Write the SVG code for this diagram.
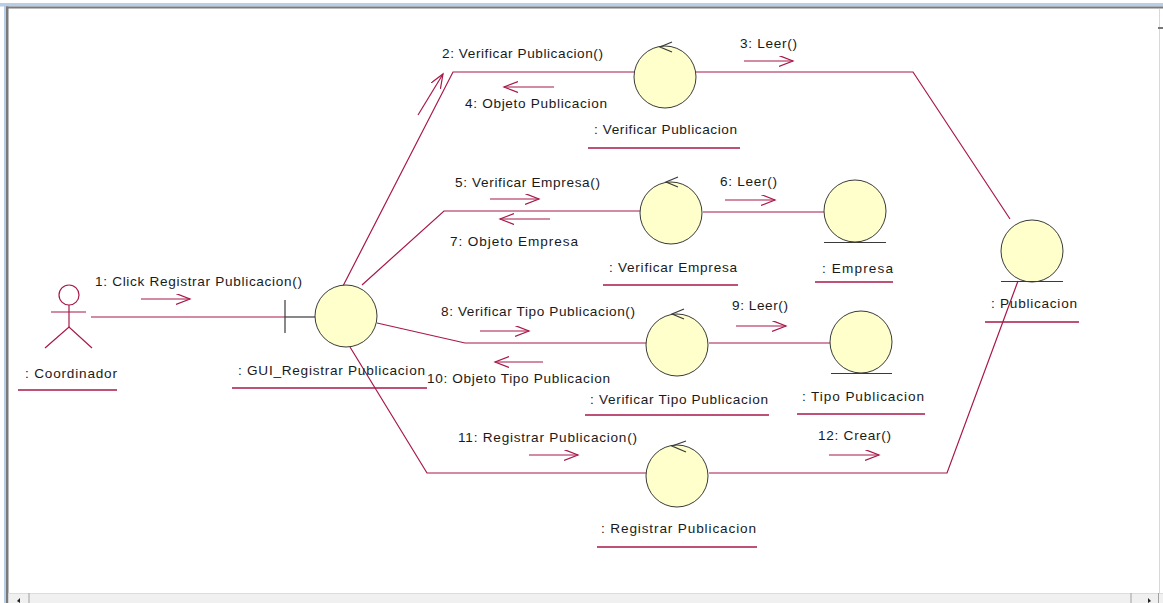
<svg xmlns="http://www.w3.org/2000/svg" width="1163" height="603" viewBox="0 0 1163 603">
<style>
.t{font-family:"Liberation Sans",Arial,sans-serif;font-size:13.6px;fill:#1a1a1a}
.ln{stroke:#a8174a;stroke-width:1.2;fill:none}
.ul{stroke:#a8174a;stroke-width:1.3}
.obj{fill:#ffffcc;stroke:#3a3a3a;stroke-width:1}
.dk{stroke:#3a3a3a;stroke-width:1.2;fill:none}
.msg{stroke:#a8174a;stroke-width:1.2;fill:none;marker-end:url(#ah)}
</style>
<defs>
<marker id="ah" markerUnits="userSpaceOnUse" markerWidth="16" markerHeight="13" refX="14" refY="5.5" orient="auto" viewBox="0 0 16 13">
<path d="M0,0 L14,5.5 L0,11" fill="none" stroke="#a8174a" stroke-width="1.2"/>
</marker>
</defs>
<g id="frame">
<rect x="0" y="0" width="1163" height="603" fill="#ffffff"/>
<rect x="0" y="3" width="1163" height="3.5" fill="#b8cde6"/>
<rect x="4" y="3" width="2" height="600" fill="#b8cde6"/>
<rect x="6" y="6.5" width="1157" height="2" fill="#7a7a7a"/>
<rect x="6" y="6.5" width="2.5" height="597" fill="#7a7a7a"/>
<line x1="1159.5" y1="9" x2="1159.5" y2="593" stroke="#d8d8d8" stroke-width="1"/>
<rect x="1158" y="27" width="5" height="2" fill="#777"/>
<rect x="8.5" y="593" width="1154.5" height="10" fill="#f0f0f0"/>
<line x1="8.5" y1="593.5" x2="1163" y2="593.5" stroke="#dcdcdc"/>
<path d="M17,601 L20,598 L20,603 Z" fill="#222"/>
<line x1="29" y1="593" x2="29" y2="603" stroke="#a0a0a0" stroke-width="1"/>
<line x1="1131" y1="593" x2="1131" y2="603" stroke="#a0a0a0" stroke-width="1"/>
<path d="M1148,598 L1151,601 L1148,603 Z" fill="#222"/>
<line x1="1158.5" y1="593" x2="1158.5" y2="603" stroke="#a0a0a0" stroke-width="1"/>
</g>
<g id="connectors">
<line class="ln" x1="91" y1="317" x2="285" y2="317"/>
<polyline class="ln" points="343,286 453,72 634,72"/>
<polyline class="ln" points="696,72 913,72 1010,219"/>
<polyline class="ln" points="362,285 444,211 640,211"/>
<line class="ln" x1="703" y1="212" x2="824" y2="212"/>
<polyline class="ln" points="377,323 465,343 646,343"/>
<line class="ln" x1="709" y1="343" x2="830" y2="343"/>
<polyline class="ln" points="350,347 427,473 646,473"/>
<polyline class="ln" points="709,473 947,473 1018,281"/>
<line class="msg" x1="141" y1="299" x2="190" y2="299"/>
<text class="t" x="95" y="286" textLength="207" lengthAdjust="spacing">1: Click Registrar Publicacion()</text>
<line class="msg" x1="418" y1="115" x2="443" y2="74"/>
<text class="t" x="442" y="58" textLength="161" lengthAdjust="spacing">2: Verificar Publicacion()</text>
<line class="msg" x1="744" y1="61" x2="793" y2="61"/>
<text class="t" x="740" y="47.5" textLength="57" lengthAdjust="spacing">3: Leer()</text>
<line class="msg" x1="554" y1="87" x2="504" y2="87"/>
<text class="t" x="465" y="108" textLength="142" lengthAdjust="spacing">4: Objeto Publicacion</text>
<line class="msg" x1="490" y1="199" x2="539" y2="199"/>
<text class="t" x="455" y="186.5" textLength="145" lengthAdjust="spacing">5: Verificar Empresa()</text>
<line class="msg" x1="725" y1="200" x2="775" y2="200"/>
<text class="t" x="720" y="185.5" textLength="57" lengthAdjust="spacing">6: Leer()</text>
<line class="msg" x1="550" y1="219" x2="500" y2="219"/>
<text class="t" x="450" y="246" textLength="128" lengthAdjust="spacing">7: Objeto Empresa</text>
<line class="msg" x1="480" y1="331" x2="529" y2="331"/>
<text class="t" x="441" y="315.5" textLength="194" lengthAdjust="spacing">8: Verificar Tipo Publicacion()</text>
<line class="msg" x1="736" y1="326" x2="786" y2="326"/>
<text class="t" x="732" y="309.5" textLength="56" lengthAdjust="spacing">9: Leer()</text>
<line class="msg" x1="543" y1="362" x2="495" y2="362"/>
<text class="t" x="427" y="382.5" textLength="183" lengthAdjust="spacing">10: Objeto Tipo Publicacion</text>
<line class="msg" x1="529" y1="455" x2="578" y2="455"/>
<text class="t" x="458" y="441.5" textLength="179" lengthAdjust="spacing">11: Registrar Publicacion()</text>
<line class="msg" x1="829" y1="455" x2="879" y2="455"/>
<text class="t" x="818" y="440" textLength="73" lengthAdjust="spacing">12: Crear()</text>
</g>
<g id="coordinador">
<circle cx="69" cy="295" r="10" class="ln"/>
<line class="ln" x1="69" y1="305" x2="69" y2="327"/>
<line class="ln" x1="51" y1="312" x2="86" y2="312"/>
<polyline class="ln" points="45,348 69,327 92,348"/>
<text class="t" x="25" y="378" textLength="92" lengthAdjust="spacing">: Coordinador</text>
<line class="ul" x1="18" y1="390" x2="117" y2="390"/>
</g>
<g id="gui">
<line class="dk" x1="285" y1="300" x2="285" y2="333"/>
<line class="dk" x1="285" y1="317" x2="315" y2="317"/>
<circle class="obj" cx="346" cy="316" r="31"/>
<text class="t" x="238" y="375" textLength="187" lengthAdjust="spacing">: GUI_Registrar Publicacion</text>
<line class="ul" x1="232" y1="388" x2="427" y2="388"/>
</g>
<g id="verificarPublicacion">
<circle class="obj" cx="665" cy="77" r="31"/>
<polyline class="dk" points="672,42 660,47 672,52"/>
<text class="t" x="594" y="134" textLength="143" lengthAdjust="spacing">: Verificar Publicacion</text>
<line class="ul" x1="588" y1="148" x2="740" y2="148"/>
</g>
<g id="verificarEmpresa">
<circle class="obj" cx="671" cy="213" r="31"/>
<polyline class="dk" points="678,177 666,182 678,187"/>
<text class="t" x="609" y="271.5" textLength="128" lengthAdjust="spacing">: Verificar Empresa</text>
<line class="ul" x1="603" y1="285" x2="738" y2="285"/>
</g>
<g id="empresa">
<circle class="obj" cx="855" cy="211" r="31"/>
<line class="dk" x1="824" y1="242.5" x2="886" y2="242.5"/>
<text class="t" x="822" y="272.5" textLength="71" lengthAdjust="spacing">: Empresa</text>
<line class="ul" x1="815" y1="282" x2="893" y2="282"/>
</g>
<g id="verificarTipo">
<circle class="obj" cx="677" cy="345" r="31"/>
<polyline class="dk" points="684,309 672,314 684,319"/>
<text class="t" x="590" y="404" textLength="178" lengthAdjust="spacing">: Verificar Tipo Publicacion</text>
<line class="ul" x1="585" y1="415" x2="769" y2="415"/>
</g>
<g id="tipoPublicacion">
<circle class="obj" cx="861" cy="342" r="31"/>
<line class="dk" x1="831" y1="373.5" x2="892" y2="373.5"/>
<text class="t" x="802" y="401" textLength="122" lengthAdjust="spacing">: Tipo Publicacion</text>
<line class="ul" x1="797" y1="414" x2="925" y2="414"/>
</g>
<g id="registrar">
<circle class="obj" cx="677" cy="476" r="31"/>
<polyline class="dk" points="686,441 672,446 686,452"/>
<text class="t" x="601" y="533" textLength="155" lengthAdjust="spacing">: Registrar Publicacion</text>
<line class="ul" x1="597" y1="547" x2="757" y2="547"/>
</g>
<g id="publicacion">
<circle class="obj" cx="1032" cy="251" r="31"/>
<line class="dk" x1="1001" y1="281.5" x2="1063" y2="281.5"/>
<text class="t" x="991" y="308" textLength="86" lengthAdjust="spacing">: Publicacion</text>
<line class="ul" x1="985" y1="322" x2="1079" y2="322"/>
</g>
</svg>
